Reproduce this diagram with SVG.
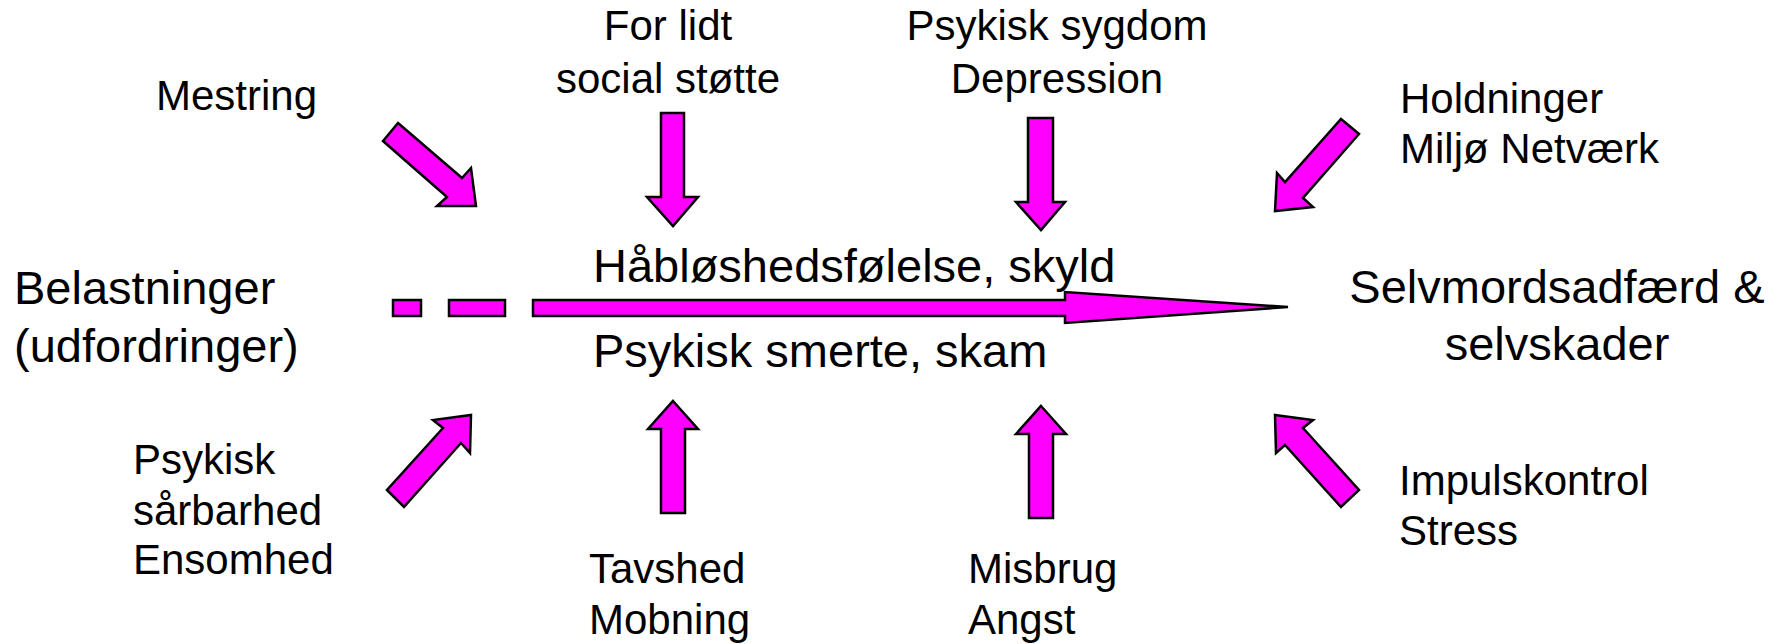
<svg xmlns="http://www.w3.org/2000/svg" width="1786" height="644" viewBox="0 0 1786 644">
<style>
.a{fill:#FF00FF;stroke:#000;stroke-width:2.5;stroke-linejoin:miter}
.t{font-family:"Liberation Sans",Arial,sans-serif;fill:#000}
.s{font-size:42px}
.b{font-size:47px}
</style>
<rect width="1786" height="644" fill="#fff"/>
<g id="connectors">
<polygon class="a" points="398,123 462,178 471,168 476,206 437,206 447,197 383,141"/>
<polygon class="a" points="1341,119 1359,134 1303,198 1313,207 1275,211 1277,173 1285,182"/>
<polygon class="a" points="387,490 404,507 461,443 470,453 471,415 433,420 443,428"/>
<polygon class="a" points="1275,415 1313,420 1303,428 1359,490 1341,507 1285,445 1276,453"/>
<polygon class="a" points="661,113 684,113 684,197 698,197 673,226 647,197 661,197"/>
<polygon class="a" points="1028,118 1053,118 1053,202 1065,202 1041,230 1016,202 1028,202"/>
<polygon class="a" points="673,401 698,429 685,429 685,513 661,513 661,429 648,429"/>
<polygon class="a" points="1041,406 1066,434 1053,434 1053,518 1029,518 1029,434 1016,434"/>
<rect class="a" x="393" y="300" width="28" height="16"/>
<rect class="a" x="449" y="300" width="56" height="16"/>
<polygon class="a" points="533,300 1065,300 1065,292 1288,307 1065,323 1065,316 533,316"/>
</g>
<g id="belastninger"><text class="t b" x="14" y="304">Belastninger</text><text class="t b" x="14" y="362">(udfordringer)</text></g>
<g id="center"><text class="t b" x="593" y="282">Håbløshedsfølelse, skyld</text><text class="t b" x="593" y="367">Psykisk smerte, skam</text></g>
<g id="selvmord"><text class="t b" x="1557" y="303" text-anchor="middle">Selvmordsadfærd &amp;</text><text class="t b" x="1557" y="360" text-anchor="middle">selvskader</text></g>
<g id="mestring"><text class="t s" x="156" y="110">Mestring</text></g>
<g id="forlidt"><text class="t s" x="668" y="40" text-anchor="middle">For lidt</text><text class="t s" x="668" y="93" text-anchor="middle">social støtte</text></g>
<g id="psykisksygdom"><text class="t s" x="1057" y="40" text-anchor="middle">Psykisk sygdom</text><text class="t s" x="1057" y="93" text-anchor="middle">Depression</text></g>
<g id="holdninger"><text class="t s" x="1400" y="113">Holdninger</text><text class="t s" x="1400" y="163">Miljø Netværk</text></g>
<g id="psykisk"><text class="t s" x="133" y="474">Psykisk</text><text class="t s" x="133" y="525">sårbarhed</text><text class="t s" x="133" y="574">Ensomhed</text></g>
<g id="tavshed"><text class="t s" x="589" y="583">Tavshed</text><text class="t s" x="589" y="634">Mobning</text></g>
<g id="misbrug"><text class="t s" x="968" y="583">Misbrug</text><text class="t s" x="968" y="634">Angst</text></g>
<g id="impuls"><text class="t s" x="1399" y="495">Impulskontrol</text><text class="t s" x="1399" y="545">Stress</text></g>
</svg>
